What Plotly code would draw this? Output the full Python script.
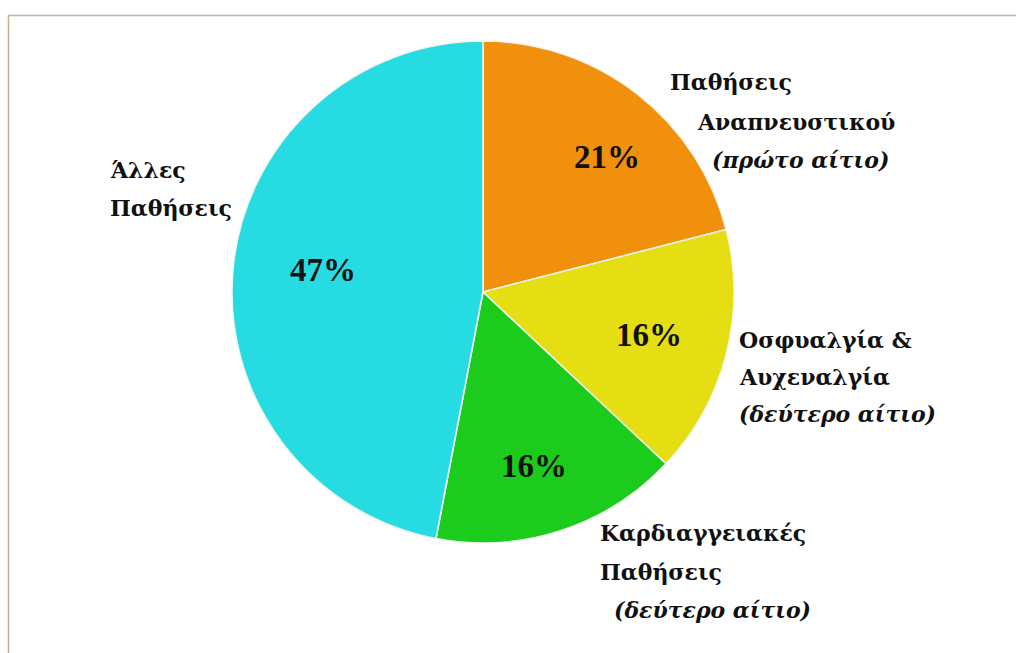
import plotly.graph_objects as go

W, H = 1016, 653

categories = ["Παθήσεις Αναπνευστικού", "Οσφυαλγία & Αυχεναλγία", "Καρδιαγγειακές Παθήσεις", "Άλλες Παθήσεις"]
values = [21, 16, 16, 47]
colors = ["#F0900C", "#E4DE12", "#1CCC1C", "#26DCE2"]

label_lines = [
    ["Παθήσεις", "Αναπνευστικού", "<i>(πρώτο αίτιο)</i>"],
    ["Οσφυαλγία &", "Αυχεναλγία", "<i>(δεύτερο αίτιο)</i>"],
    ["Καρδιαγγειακές", "Παθήσεις", "<i>(δεύτερο αίτιο)</i>"],
    ["Άλλες", "Παθήσεις"],
]
# pixel anchor (left x, center y) of each label line
label_pos = [
    [(668, 82), (695, 122), (710, 160)],
    [(737, 340), (737, 377), (737, 414)],
    [(598, 533), (598, 572), (612, 610)],
    [(108, 170), (108, 208)],
]
# pixel centre of each percentage label
pct_pos = [(607, 157), (649, 335), (534, 466), (323, 270)]

# pie geometry (pixels)
cx, cy, r = 483, 292, 251

fig = go.Figure(go.Pie(
    labels=categories,
    values=values,
    sort=False,
    direction="clockwise",
    rotation=0,
    marker=dict(colors=colors, line=dict(color="#F4F4EE", width=1.5)),
    textinfo="none",
    showlegend=False,
    hoverinfo="label+percent",
    domain=dict(x=[(cx - r) / W, (cx + r) / W], y=[1 - (cy + r) / H, 1 - (cy - r) / H]),
))

annotations = []
for lines, poss in zip(label_lines, label_pos):
    for t, (px, py) in zip(lines, poss):
        annotations.append(dict(
            x=px / W, y=1 - py / H, xref="paper", yref="paper",
            xanchor="left", yanchor="middle", showarrow=False,
            text=f"<b>{t}</b>",
            font=dict(family="DejaVu Serif", size=22, color="#111111"),
        ))
for v, (px, py) in zip(values, pct_pos):
    annotations.append(dict(
        x=px / W, y=1 - py / H, xref="paper", yref="paper",
        xanchor="center", yanchor="middle", showarrow=False,
        text=f"<b>{v}%</b>",
        font=dict(family="Liberation Serif", size=33, color="#111111"),
    ))

fig.update_layout(
    width=W, height=H,
    margin=dict(l=0, r=0, t=0, b=0),
    paper_bgcolor="white", plot_bgcolor="white",
    annotations=annotations,
    shapes=[dict(type="rect", xref="paper", yref="paper",
                 x0=8.5 / W, y0=-0.02, x1=1.02, y1=1 - 15.5 / H,
                 line=dict(color="#C4B48C", width=1.5))],
)

fig.write_html("out.html")
